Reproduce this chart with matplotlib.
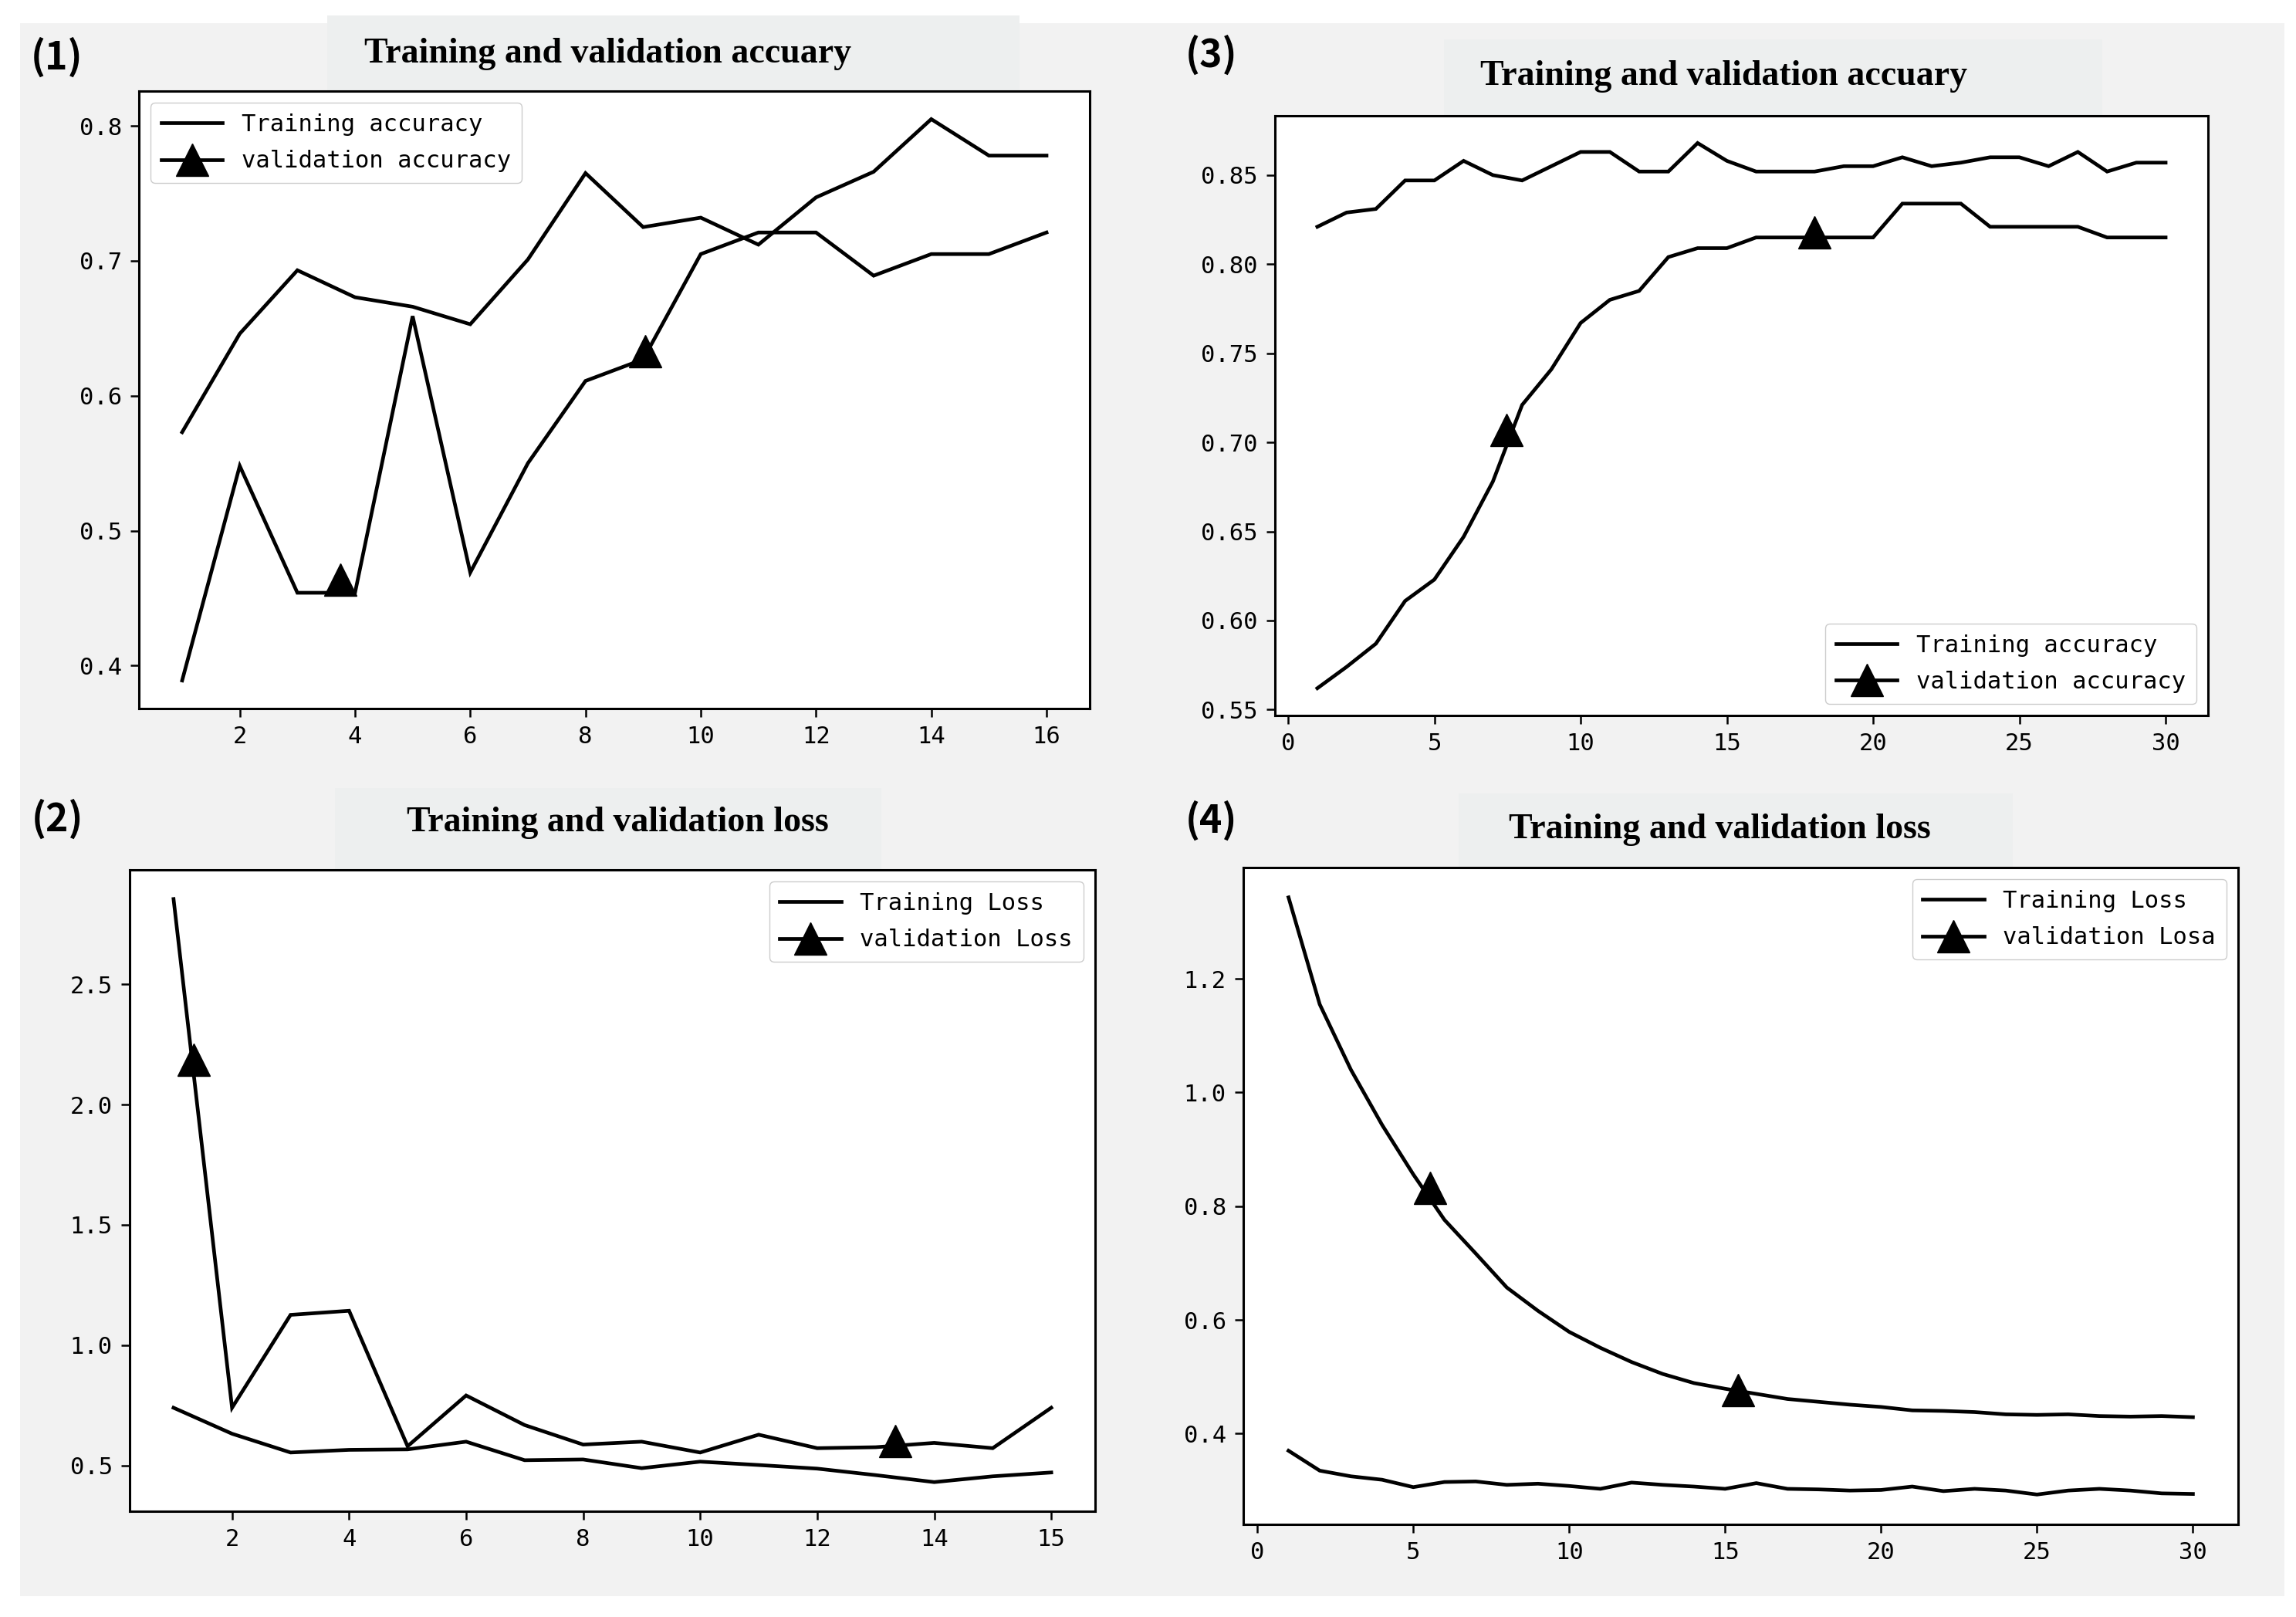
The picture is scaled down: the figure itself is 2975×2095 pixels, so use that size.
import matplotlib
matplotlib.use("Agg")
import matplotlib.pyplot as plt
from matplotlib.lines import Line2D
from matplotlib.patches import Rectangle
from matplotlib import font_manager as fm

# ---------------- data ----------------
epochs_16 = list(range(1, 17))
epochs_30 = list(range(1, 31))

# Panel (1)
acc1_train = [0.573, 0.646, 0.693, 0.673, 0.666, 0.653, 0.701, 0.765,
              0.725, 0.732, 0.712, 0.747, 0.766, 0.805, 0.778, 0.778]
acc1_val = [0.389, 0.548, 0.454, 0.454, 0.659, 0.469, 0.550, 0.611,
            0.627, 0.705, 0.721, 0.721, 0.689, 0.705, 0.705, 0.721]
acc1_mark_x = [3.75, 9.03]
acc1_mark_y = [0.464, 0.633]

# Panel (2)
loss2_train = [0.740, 0.632, 0.554, 0.565, 0.567, 0.599, 0.522, 0.525,
               0.489, 0.516, 0.502, 0.487, 0.460, 0.431, 0.455, 0.471]
loss2_val = [2.854, 0.740, 1.126, 1.143, 0.580, 0.791, 0.668, 0.587,
             0.599, 0.554, 0.628, 0.572, 0.576, 0.594, 0.572, 0.740]
loss2_mark_x = [1.35, 13.34]
loss2_mark_y = [2.186, 0.603]
loss2_xticks = [2, 4, 6, 8, 10, 12, 14, 16]
loss2_xticklabels = ["2", "4", "6", "8", "10", "12", "14", "15"]

# Panel (3)
acc3_train = [0.821, 0.829, 0.831, 0.847, 0.847, 0.858, 0.850, 0.847, 0.855, 0.863,
              0.863, 0.852, 0.852, 0.868, 0.858, 0.852, 0.852, 0.852, 0.855, 0.855,
              0.860, 0.855, 0.857, 0.860, 0.860, 0.855, 0.863, 0.852, 0.857, 0.857]
acc3_val = [0.562, 0.574, 0.587, 0.611, 0.623, 0.647, 0.678, 0.721, 0.741, 0.767,
            0.780, 0.785, 0.804, 0.809, 0.809, 0.815, 0.815, 0.815, 0.815, 0.815,
            0.834, 0.834, 0.834, 0.821, 0.821, 0.821, 0.821, 0.815, 0.815, 0.815]
acc3_mark_x = [7.47, 18.0]
acc3_mark_y = [0.707, 0.818]

# Panel (4)
loss4_train = [0.370, 0.335, 0.325, 0.319, 0.306, 0.315, 0.316, 0.310, 0.312, 0.308,
               0.303, 0.314, 0.310, 0.307, 0.303, 0.313, 0.303, 0.302, 0.300, 0.301,
               0.307, 0.299, 0.303, 0.300, 0.293, 0.300, 0.303, 0.300, 0.295, 0.294]
loss4_val = [1.343, 1.155, 1.040, 0.943, 0.856, 0.776, 0.717, 0.657, 0.616, 0.579,
             0.551, 0.526, 0.505, 0.489, 0.479, 0.470, 0.461, 0.456, 0.451, 0.447,
             0.441, 0.440, 0.438, 0.434, 0.433, 0.434, 0.431, 0.430, 0.431, 0.429]
loss4_mark_x = [5.53, 15.42]
loss4_mark_y = [0.832, 0.477]

titles = ["Training and validation accuary", "Training and validation loss",
          "Training and validation accuary", "Training and validation loss"]
panel_labels = ["(1)", "(2)", "(3)", "(4)"]
legend_labels = [("Training accuracy", "validation accuracy"),
                 ("Training Loss", "validation Loss"),
                 ("Training accuracy", "validation accuracy"),
                 ("Training Loss", "validation Losa")]

# ---------------- style ----------------
names = {f.name for f in fm.fontManager.ttflist}
mono = "Noto Sans Mono CJK SC" if "Noto Sans Mono CJK SC" in names else "DejaVu Sans Mono"
plt.rcParams["font.family"] = [mono, "DejaVu Sans"]

W, H = 2975, 2095
DPI = 100
fig = plt.figure(figsize=(W / DPI, H / DPI), dpi=DPI, facecolor="white")


def frac(l, t, r, b):
    return [l / W, 1 - b / H, (r - l) / W, (b - t) / H]


# background panel and title boxes
fig.patches.append(Rectangle((26 / W, 1 - 2068 / H), (2960 - 26) / W, (2068 - 30) / H,
                             transform=fig.transFigure, facecolor="#f2f2f2",
                             edgecolor="none", zorder=-10))
title_boxes = [(424, 20, 1321, 118), (434, 1021, 1142, 1127),
               (1871, 51, 2724, 150), (1890, 1028, 2608, 1124)]
for (l, t, r, b) in title_boxes:
    fig.patches.append(Rectangle((l / W, 1 - b / H), (r - l) / W, (b - t) / H,
                                 transform=fig.transFigure, facecolor="#edefef",
                                 edgecolor="none", zorder=-9))

axes_boxes = [(180, 118, 1412, 918), (168, 1127, 1419, 1958),
              (1652, 150, 2861, 927), (1611, 1124, 2900, 1975)]
title_pos = [(788, 70), (800, 1066), (2234, 99), (2228, 1075)]
label_pos = [(74, 75), (74, 1062), (1569, 72), (1569, 1064)]
legend_loc = ["upper left", "upper right", "lower right", "upper right"]

series = [
    (epochs_16, acc1_train, acc1_val, acc1_mark_x, acc1_mark_y),
    (epochs_16, loss2_train, loss2_val, loss2_mark_x, loss2_mark_y),
    (epochs_30, acc3_train, acc3_val, acc3_mark_x, acc3_mark_y),
    (epochs_30, loss4_train, loss4_val, loss4_mark_x, loss4_mark_y),
]

LW = 3.4
MS = 30
TICK_FS = 22
LEG_FS = 22

for i in range(4):
    ax = fig.add_axes(frac(*axes_boxes[i]))
    ax.set_facecolor("white")
    x, tr, va, mx, my = series[i]
    ax.plot(x, tr, color="black", lw=LW, solid_joinstyle="miter")
    ax.plot(x, va, color="black", lw=LW, solid_joinstyle="miter")
    ax.plot(mx, my, linestyle="none", marker="^", ms=MS, color="black")
    for s in ax.spines.values():
        s.set_linewidth(2.2)
    ax.tick_params(labelsize=TICK_FS, width=1.8, length=8, pad=8)
    if i == 1:
        ax.set_xticks(loss2_xticks)
        ax.set_xticklabels(loss2_xticklabels)
    h1 = Line2D([], [], color="black", lw=LW)
    h2 = Line2D([], [], color="black", lw=LW, marker="^", ms=MS)
    ax.legend([h1, h2], legend_labels[i], loc=legend_loc[i], fontsize=LEG_FS,
              handlelength=2.6, labelspacing=0.6, borderpad=0.45,
              fancybox=True, framealpha=1.0, edgecolor="#cccccc")
    tx, ty = title_pos[i]
    fig.text(tx / W, 1 - ty / H, titles[i], ha="center", va="center",
             family="Liberation Serif", weight="bold", fontsize=33)
    lx, ly = label_pos[i]
    fig.text(lx / W, 1 - ly / H, panel_labels[i], ha="center", va="center",
             family=["Noto Sans CJK SC", "DejaVu Sans"], weight="bold", fontsize=36)

fig.savefig("out.png", dpi=DPI, facecolor=fig.get_facecolor())
